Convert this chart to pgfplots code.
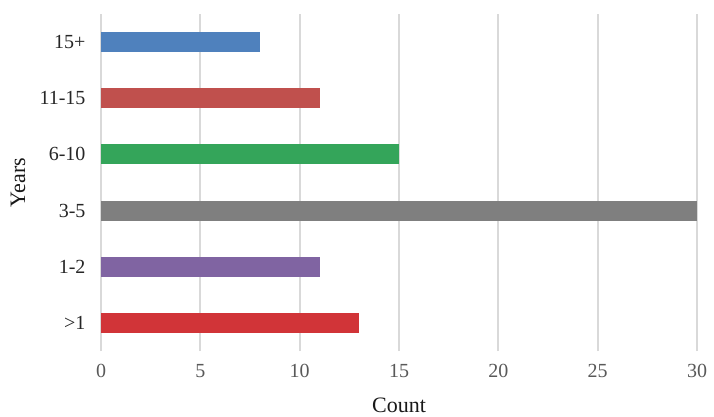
\documentclass[border=0pt]{standalone}
\usepackage{pgfplots}
\pgfplotsset{compat=1.18}
\usepackage{fontspec}
\setmainfont{Liberation Serif}
\definecolor{cA}{HTML}{D13438}
\definecolor{cB}{HTML}{8064A2}
\definecolor{cC}{HTML}{7F7F7F}
\definecolor{cD}{HTML}{34A55A}
\definecolor{cE}{HTML}{C0504D}
\definecolor{cF}{HTML}{4F81BD}
\definecolor{gridgray}{HTML}{D9D9D9}
\definecolor{ticktext}{HTML}{595959}
\begin{document}
\begin{tikzpicture}
\useasboundingbox (0,0) rectangle (714pt,416pt);
\begin{axis}[
  at={(101pt,65pt)}, anchor=south west,
  scale only axis, width=596pt, height=337pt,
  xmin=0, xmax=30, ymin=-0.5, ymax=5.5,
  xtick={0,5,10,15,20,25,30},
  ytick={0,1,2,3,4,5},
  yticklabels={>1,1-2,3-5,6-10,11-15,15+},
  axis line style={draw=none},
  major tick style={draw=none},
  xmajorgrids,
  grid style={line width=1.8pt, color=gridgray},
  /pgf/number format/assume math mode=true,
  xticklabel style={font=\fontsize{20}{23}\selectfont, text=ticktext, yshift=-10pt},
  yticklabel style={font=\fontsize{20}{23}\selectfont, text=black!85, xshift=-12pt},
  xlabel={Count}, ylabel={Years},
  label style={font=\fontsize{22}{25}\selectfont, text=black!90},
  xlabel style={at={(axis description cs:0.5,-0.16)}, anchor=center},
  ylabel style={at={(axis description cs:-0.139,0.5)}, anchor=center},
  clip=false,
]
\addplot[xbar, bar width=20pt, bar shift=0pt, fill=cA, draw=none] coordinates {(13,0)};
\addplot[xbar, bar width=20pt, bar shift=0pt, fill=cB, draw=none] coordinates {(11,1)};
\addplot[xbar, bar width=20pt, bar shift=0pt, fill=cC, draw=none] coordinates {(30,2)};
\addplot[xbar, bar width=20pt, bar shift=0pt, fill=cD, draw=none] coordinates {(15,3)};
\addplot[xbar, bar width=20pt, bar shift=0pt, fill=cE, draw=none] coordinates {(11,4)};
\addplot[xbar, bar width=20pt, bar shift=0pt, fill=cF, draw=none] coordinates {(8,5)};
\end{axis}
\end{tikzpicture}
\end{document}
